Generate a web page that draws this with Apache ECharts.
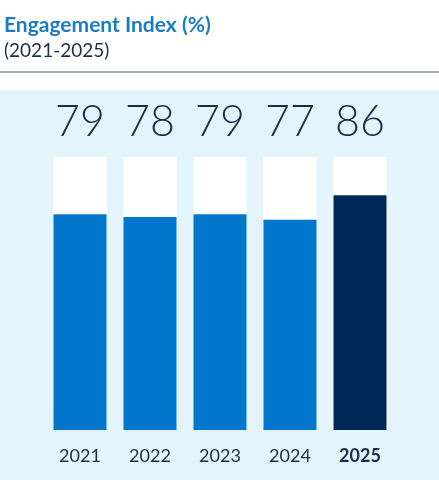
<!DOCTYPE html>
<html>
<head>
<meta charset="utf-8">
<script src="https://cdn.jsdelivr.net/npm/echarts@6/dist/echarts.min.js"></script>
<style>
  html, body { margin: 0; padding: 0; background: #ffffff; }
  #chart { width: 439px; height: 480px; }
</style>
</head>
<body>
<div id="chart"></div>
<script>
// Chart data
const years = ['2021', '2022', '2023', '2024', '2025'];
const engagement = [79, 78, 79, 77, 86];
const highlightYear = '2025';

const BLUE = '#0077cc';
const NAVY = '#002856';
const TEXT = '#1b2d48';

const chart = echarts.init(document.getElementById('chart'));

const option = {
    backgroundColor: '#ffffff',
    animation: false,
    title: {
        text: 'Engagement Index (%)',
        subtext: '(2021-2025)',
        left: -1,
        top: 10,
        itemGap: 5,
        textStyle: {
            fontFamily: 'Lato',
            fontSize: 21,
            fontWeight: 'bold',
            color: '#1a7cc2'
        },
        subtextStyle: {
            fontFamily: 'Lato',
            fontSize: 19,
            color: TEXT
        }
    },
    graphic: [
        {
            // light panel behind the bars
            type: 'rect',
            z: -10,
            shape: { x: 0, y: 90, width: 439, height: 390 },
            style: { fill: '#e3f4fd' }
        },
        {
            // divider under the title
            type: 'line',
            shape: { x1: 0, y1: 72, x2: 439, y2: 72 },
            style: { stroke: '#4a5a72', lineWidth: 1 }
        }
    ],
    grid: {
        left: 45,
        right: 44,
        top: 157,
        bottom: 50
    },
    xAxis: [
        {
            type: 'category',
            data: years,
            axisLine: { show: false },
            axisTick: { show: false },
            axisLabel: {
                interval: 0,
                margin: 17,
                fontFamily: 'Lato',
                fontSize: 18,
                color: TEXT,
                formatter: (v) => v === highlightYear ? '{b|' + v + '}' : v,
                rich: {
                    b: { fontFamily: 'Lato', fontSize: 18, fontWeight: 'bold', color: TEXT }
                }
            }
        },
        {
            // value labels above the tracks
            type: 'category',
            position: 'top',
            data: years,
            axisLine: { show: false },
            axisTick: { show: false },
            axisLabel: {
                interval: 0,
                margin: 35,
                verticalAlign: 'middle',
                fontFamily: 'Lato',
                fontWeight: 300,
                fontSize: 43,
                color: TEXT,
                formatter: (v, i) => String(engagement[i])
            }
        }
    ],
    yAxis: {
        type: 'value',
        min: 0,
        max: 100,
        show: false
    },
    series: [
        {
            type: 'bar',
            barWidth: 53,
            data: engagement.map((v, i) => ({
                value: v,
                itemStyle: { color: years[i] === highlightYear ? NAVY : BLUE }
            })),
            showBackground: true,
            backgroundStyle: { color: '#ffffff' }
        }
    ]
};

chart.setOption(option);
window.addEventListener('resize', () => chart.resize());
</script>
</body>
</html>
